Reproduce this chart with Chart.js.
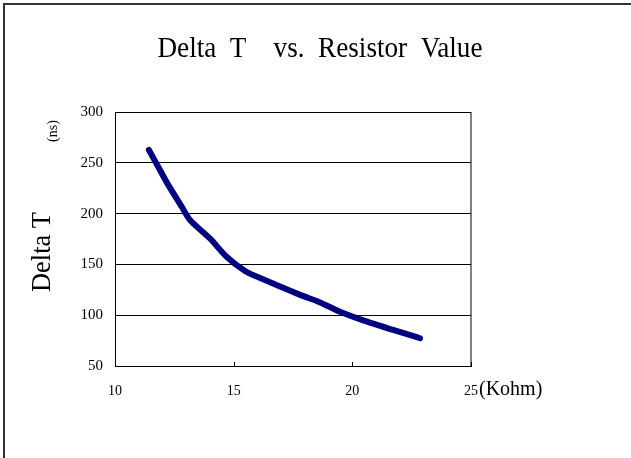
<!DOCTYPE html>
<html lang="en">
<head>
<meta charset="UTF-8">
<title>Delta T vs. Resistor Value</title>
<script src="https://cdn.jsdelivr.net/npm/chart.js"></script>
<style>
  body { margin: 0; background: #fff; }
</style>
</head>
<body>
<canvas id="deltaChart" width="631" height="458"></canvas>
<script>
  // values
  const resistorKohm = [11.43, 11.97, 12.25, 12.81, 13.16, 14.0, 14.7, 15.48, 15.97, 17.8, 18.57, 19.48, 20.46, 22.85];
  const deltaTns = [262.6, 239.7, 228, 206.8, 193.7, 175.5, 157.6, 143.5, 138, 120, 113.3, 103.4, 95, 77.3];
  const xTicks = [10, 15, 20, 25];
  const yTicks = [50, 100, 150, 200, 250, 300];

  const serif = "'Liberation Serif', 'DejaVu Serif', serif";

  // draws text squeezed to a given width (the original font is narrow)
  function fitText(ctx, text, x, y, size, width, rot) {
    ctx.save();
    ctx.font = size + "px " + serif;
    ctx.fillStyle = "#000";
    ctx.textAlign = "center";
    ctx.textBaseline = "middle";
    ctx.translate(x, y);
    if (rot) ctx.rotate(rot);
    const w = ctx.measureText(text).width;
    if (width) ctx.scale(width / w, 1);
    ctx.fillText(text, 0, 0);
    ctx.restore();
  }

  const extras = {
    id: "extras",
    afterDraw(chart) {
      const ctx = chart.ctx;
      const a = chart.chartArea;
      const xs = chart.scales.x;

      // outer frame (left and top edges only)
      ctx.save();
      ctx.strokeStyle = "#333";
      ctx.lineWidth = 2;
      ctx.beginPath();
      ctx.moveTo(4, 458);
      ctx.lineTo(4, 4);
      ctx.lineTo(631, 4);
      ctx.stroke();

      // right side of the plot box
      ctx.strokeStyle = "#000";
      ctx.lineWidth = 1;
      ctx.beginPath();
      ctx.moveTo(a.right, a.top);
      ctx.lineTo(a.right, a.bottom);
      ctx.stroke();

      // small inner tick marks on the x axis
      ctx.beginPath();
      xTicks.forEach(v => {
        const px = Math.round(xs.getPixelForValue(v)) + 0.5;
        ctx.moveTo(px, a.bottom);
        ctx.lineTo(px, a.bottom - 4);
      });
      ctx.stroke();
      ctx.restore();

      fitText(ctx, "Delta  T    vs.  Resistor  Value", 320, 49, 30, 325);
      fitText(ctx, "Delta T", 43, 252, 28, 80, -Math.PI / 2);
      fitText(ctx, "(ns)", 53, 131, 14, 0, -Math.PI / 2);

      ctx.save();
      ctx.font = "20px " + serif;
      ctx.fillStyle = "#000";
      ctx.textBaseline = "middle";
      ctx.fillText("(Kohm)", 479, 390);
      ctx.restore();
    }
  };

  new Chart(document.getElementById("deltaChart"), {
    type: "scatter",
    data: {
      datasets: [{
        data: resistorKohm.map((x, i) => ({ x: x, y: deltaTns[i] })),
        showLine: true,
        borderColor: "#000080",
        borderWidth: 6,
        borderCapStyle: "round",
        borderJoinStyle: "round",
        tension: 0.3,
        pointRadius: 0
      }]
    },
    options: {
      responsive: false,
      animation: false,
      events: [],
      layout: { padding: { top: 112, right: 160, bottom: 52, left: 0 } },
      plugins: { legend: { display: false }, tooltip: { enabled: false } },
      scales: {
        x: {
          type: "linear",
          min: 10,
          max: 25,
          afterBuildTicks: s => { s.ticks = xTicks.map(v => ({ value: v })); },
          afterFit: s => { s.height = 40; },
          grid: { display: false },
          border: { color: "#000", width: 1 },
          ticks: { color: "#000", font: { family: serif, size: 14 }, padding: 9, maxRotation: 0 }
        },
        y: {
          min: 50,
          max: 300,
          afterBuildTicks: s => { s.ticks = yTicks.map(v => ({ value: v })); },
          afterFit: s => { s.width = 115; },
          grid: { color: "#000", lineWidth: 1, drawTicks: false },
          border: { color: "#000", width: 1 },
          ticks: { color: "#000", font: { family: serif, size: 15 }, padding: 12 }
        }
      }
    },
    plugins: [extras]
  });
</script>
</body>
</html>
